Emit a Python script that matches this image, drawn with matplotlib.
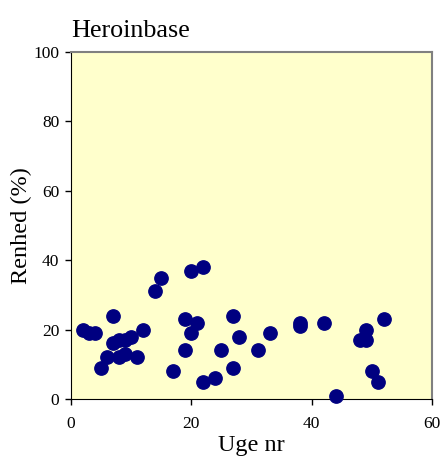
import numpy as np
import matplotlib.pyplot as plt

# week number and purity (%)
uge = [2, 3, 4, 5, 6, 7, 7, 8, 8, 9, 9, 10, 11, 12, 14, 15, 17, 19, 19, 20, 20,
       21, 22, 22, 24, 25, 27, 27, 28, 31, 33, 38, 38, 42, 44, 48, 49, 49, 50, 51, 52]
renhed = [20, 19, 19, 9, 12, 24, 16, 17, 12, 13, 17, 18, 12, 20, 31, 35, 8, 23, 14, 19, 37,
          22, 38, 5, 6, 14, 24, 9, 18, 14, 19, 22, 21, 22, 1, 17, 20, 17, 8, 5, 23]

plt.rcParams['font.family'] = ['Liberation Serif', 'DejaVu Serif']

fig = plt.figure(figsize=(4.44, 4.61), dpi=100)
ax = fig.add_axes([0.16, 0.1345, 0.813, 0.7527])
ax.set_facecolor('#FFFFCC')

ax.scatter(uge, renhed, s=92, color='#000080', zorder=3, clip_on=False)

ax.set_xlim(0, 60)
ax.set_ylim(0, 100)
ax.set_xticks([0, 20, 40, 60])
ax.set_yticks([0, 20, 40, 60, 80, 100])
ax.tick_params(direction='out', length=4.5, labelsize=12.5, width=1)
ax.tick_params(axis='x', pad=8)
ax.tick_params(axis='y', pad=4)

for side in ['top', 'right']:
    ax.spines[side].set_color('#808080')
    ax.spines[side].set_linewidth(1.5)
for side in ['left', 'bottom']:
    ax.spines[side].set_color('black')

ax.set_xlabel('Uge nr', fontsize=17.5, labelpad=2)
ax.set_ylabel('Renhed (%)', fontsize=17.5, labelpad=1)
ax.set_title('Heroinbase', loc='left', fontsize=18.8, pad=11)

fig.savefig('out.png', dpi=100)
